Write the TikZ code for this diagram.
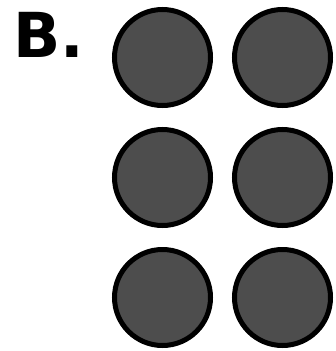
\documentclass[tikz,border=0pt]{standalone}
\usepackage{fontspec}
\setmainfont{DejaVu Sans}
\usepackage{xcolor}
\usetikzlibrary{positioning}

\definecolor{dotgray}{HTML}{4D4D4D}

\begin{document}
\begin{tikzpicture}[x=1pt,y=-1pt,node distance=24pt]

\tikzset{dot style/.style={draw=black,fill=dotgray,circle,line width=5pt,
  minimum size=96pt,inner sep=0pt,outer sep=0pt}}

\useasboundingbox (0,0) rectangle (335,351);

\node[anchor=base west,inner sep=0pt,font=\bfseries\fontsize{62}{62}\selectfont] (lbl) at (13,57) {B.};

\node[dot style]               (d11) at (162.5,57.5) {};
\node[dot style, right=of d11] (d12) {};
\node[dot style, below=of d11] (d21) {};
\node[dot style, right=of d21] (d22) {};
\node[dot style, below=of d21] (d31) {};
\node[dot style, right=of d31] (d32) {};

\end{tikzpicture}
\end{document}
